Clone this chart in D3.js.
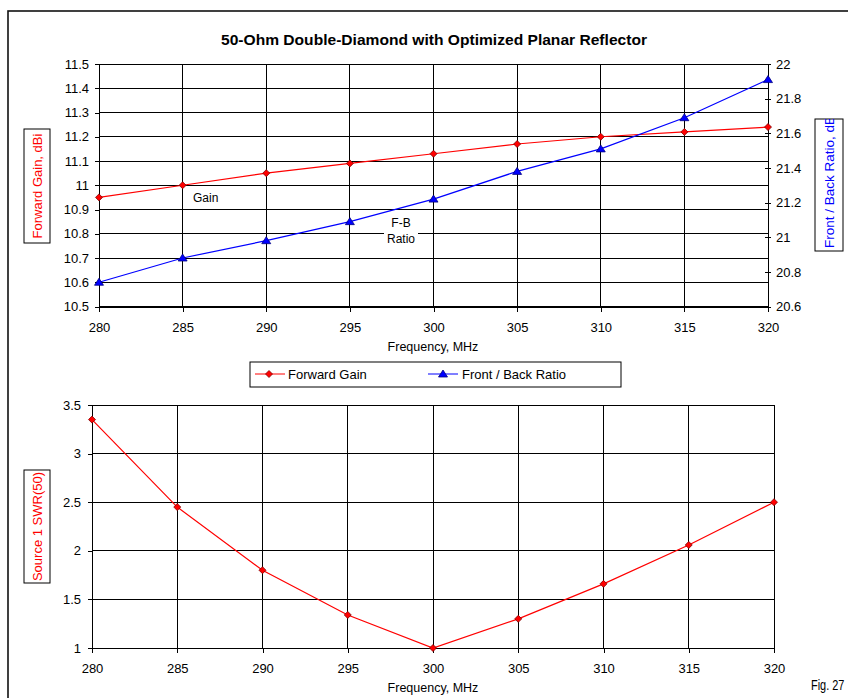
<!DOCTYPE html>
<html>
<head>
<meta charset="utf-8">
<script src="https://cdn.jsdelivr.net/npm/d3@7"></script>
<style>
  html, body { margin: 0; padding: 0; background: #fff; }
  svg { display: block; }
  text { font-family: "Liberation Sans", Arial, sans-serif; fill: #000; }
</style>
</head>
<body>
<svg id="chart" width="848" height="698"></svg>
<script>
// ---------- data ----------
const freqs = [280, 285, 290, 295, 300, 305, 310, 315, 320];
const forwardGain = [10.95, 11.0, 11.05, 11.09, 11.13, 11.17, 11.2, 11.22, 11.24];
const fbRatio = [20.74, 20.88, 20.98, 21.09, 21.22, 21.38, 21.51, 21.69, 21.91];
const swr = [3.35, 2.45, 1.8, 1.34, 1.0, 1.3, 1.66, 2.06, 2.5];

const xTicks = [280, 285, 290, 295, 300, 305, 310, 315, 320];
const gainTicks = [10.5, 10.6, 10.7, 10.8, 10.9, 11.0, 11.1, 11.2, 11.3, 11.4, 11.5];
const fbTicks = [20.6, 20.8, 21.0, 21.2, 21.4, 21.6, 21.8, 22.0];
const swrTicks = [1, 1.5, 2, 2.5, 3, 3.5];

const titleText = "50-Ohm Double-Diamond with Optimized Planar Reflector";
const xTitle = "Frequency, MHz";
const gainTitle = "Forward Gain,  dBi";
const fbTitle = "Front / Back Ratio,  dB";
const swrTitle = "Source 1 SWR(50)";
const legendNames = ["Forward Gain", "Front / Back Ratio"];

// ---------- setup ----------
const svg = d3.select("#chart");
const fmt = d => String(+d.toFixed(2));
const RED = "#ff0000", BLUE = "#0000ff";

// outer frame
svg.append("rect").attr("x", 8).attr("y", 11).attr("width", 1000).attr("height", 1000)
  .attr("fill", "none").attr("stroke", "#111").attr("stroke-width", 1.6);

// title
svg.append("text").attr("x", 434).attr("y", 45).attr("text-anchor", "middle")
  .style("font-family", "'Liberation Sans Narrow', 'Arial Narrow', 'Liberation Sans', sans-serif")
  .style("font-weight", "bold").style("font-size", "15px")
  .attr("textLength", 426).attr("lengthAdjust", "spacingAndGlyphs")
  .text(titleText);

function diamond(g, x, y, r) {
  g.append("path")
    .attr("d", `M${x},${y - r}L${x + r},${y}L${x},${y + r}L${x - r},${y}Z`)
    .attr("fill", RED).attr("stroke", "#800000").attr("stroke-width", 0.8);
}
function triangle(g, x, y) {
  g.append("path")
    .attr("d", `M${x},${y - 4}L${x + 4.5},${y + 3}L${x - 4.5},${y + 3}Z`)
    .attr("fill", BLUE).attr("stroke", "#000080").attr("stroke-width", 0.8);
}

// ---------- top chart ----------
const xT = d3.scaleLinear().domain([280, 320]).range([99, 768]);
const yG = d3.scaleLinear().domain([10.5, 11.5]).range([306.5, 64]);
const yF = d3.scaleLinear().domain([20.6, 22]).range([306.5, 64]);

const topG = svg.append("g");
// gridlines
topG.append("g").selectAll("line").data(gainTicks).join("line")
  .attr("x1", xT(280)).attr("x2", xT(320)).attr("y1", d => yG(d)).attr("y2", d => yG(d))
  .attr("stroke", "#000").attr("stroke-width", 1).attr("shape-rendering", "crispEdges");
topG.append("g").selectAll("line").data(xTicks).join("line")
  .attr("x1", d => xT(d)).attr("x2", d => xT(d)).attr("y1", yG(11.5)).attr("y2", yG(10.5))
  .attr("stroke", "#000").attr("stroke-width", 1).attr("shape-rendering", "crispEdges");

// axes
const axL = d3.axisLeft(yG).tickValues(gainTicks).tickFormat(fmt).tickSize(4).tickPadding(6);
const gL = topG.append("g").attr("transform", `translate(${xT(280)},0)`).call(axL);
const axR = d3.axisRight(yF).tickValues(fbTicks).tickFormat(fmt).tickSize(3).tickPadding(5);
const gR = topG.append("g").attr("transform", `translate(${xT(320)},0)`).call(axR);
gR.selectAll(".tick line").attr("x1", -3);
const axB = d3.axisBottom(xT).tickValues(xTicks).tickFormat(d3.format("d")).tickSize(5).tickPadding(11);
const gB = topG.append("g").attr("transform", `translate(0,${yG(10.5)})`).call(axB);
[gL, gR, gB].forEach(g => {
  g.selectAll(".domain").attr("stroke", "#000").attr("shape-rendering", "crispEdges");
  g.selectAll(".tick line").attr("stroke", "#000").attr("shape-rendering", "crispEdges");
  g.selectAll("text").style("font-size", "13px").style("font-family", "'Liberation Sans', Arial, sans-serif").attr("fill", "#000");
});

// lines
const lineG = d3.line().x((d, i) => xT(freqs[i])).y(d => yG(d));
const lineF = d3.line().x((d, i) => xT(freqs[i])).y(d => yF(d));
topG.append("path").attr("d", lineG(forwardGain)).attr("fill", "none").attr("stroke", RED).attr("stroke-width", 1.2);
topG.append("path").attr("d", lineF(fbRatio)).attr("fill", "none").attr("stroke", BLUE).attr("stroke-width", 1.2);

// in-chart labels
topG.append("text").attr("x", 193).attr("y", 201.5).style("font-size", "12px").text("Gain");
topG.append("rect").attr("x", 384).attr("y", 214).attr("width", 34).attr("height", 31).attr("fill", "#fff");
topG.append("text").attr("x", 401).attr("y", 227).attr("text-anchor", "middle").style("font-size", "12px").text("F-B");
topG.append("text").attr("x", 401).attr("y", 243).attr("text-anchor", "middle").style("font-size", "12px").text("Ratio");

forwardGain.forEach((v, i) => diamond(topG, xT(freqs[i]), yG(v), 3.5));
fbRatio.forEach((v, i) => triangle(topG, xT(freqs[i]), yF(v)));

// axis titles
topG.append("text").attr("x", 433).attr("y", 351).attr("text-anchor", "middle").style("font-size", "12.5px").text(xTitle);

topG.append("rect").attr("x", 24).attr("y", 129).attr("width", 26).attr("height", 114)
  .attr("fill", "#fff").attr("stroke", "#000").attr("stroke-width", 1);
topG.append("text").attr("transform", "translate(37,186) rotate(-90)")
  .attr("text-anchor", "middle").attr("dominant-baseline", "central")
  .style("font-size", "13px").style("fill", RED).text(gainTitle);

svg.append("defs").append("clipPath").attr("id", "fbclip")
  .append("rect").attr("x", 815).attr("y", 119).attr("width", 28).attr("height", 132);
topG.append("rect").attr("x", 815).attr("y", 119).attr("width", 28).attr("height", 132)
  .attr("fill", "#fff").attr("stroke", "#000").attr("stroke-width", 1);
topG.append("g").attr("clip-path", "url(#fbclip)")
  .append("text").attr("transform", "translate(829,248) rotate(-90)")
  .attr("text-anchor", "start").attr("dominant-baseline", "central")
  .style("font-size", "13.5px").style("fill", BLUE).text(fbTitle);

// legend
const leg = svg.append("g");
leg.append("rect").attr("x", 250).attr("y", 362).attr("width", 371).attr("height", 25)
  .attr("fill", "#fff").attr("stroke", "#000").attr("stroke-width", 1);
leg.append("line").attr("x1", 255).attr("x2", 285).attr("y1", 374).attr("y2", 374).attr("stroke", RED);
diamond(leg, 269, 374, 3.5);
leg.append("text").attr("x", 288).attr("y", 378.5).style("font-size", "13px").text(legendNames[0]);
leg.append("line").attr("x1", 428).attr("x2", 458).attr("y1", 374).attr("y2", 374).attr("stroke", BLUE);
triangle(leg, 443, 374);
leg.append("text").attr("x", 462).attr("y", 378.5).style("font-size", "13px").text(legendNames[1]);

// ---------- bottom chart ----------
const xB = d3.scaleLinear().domain([280, 320]).range([92, 774]);
const yS = d3.scaleLinear().domain([1, 3.5]).range([648, 405]);
const botG = svg.append("g");
botG.append("g").selectAll("line").data(swrTicks).join("line")
  .attr("x1", xB(280)).attr("x2", xB(320)).attr("y1", d => yS(d)).attr("y2", d => yS(d))
  .attr("stroke", "#000").attr("stroke-width", 1).attr("shape-rendering", "crispEdges");
botG.append("g").selectAll("line").data(xTicks).join("line")
  .attr("x1", d => xB(d)).attr("x2", d => xB(d)).attr("y1", yS(3.5)).attr("y2", yS(1))
  .attr("stroke", "#000").attr("stroke-width", 1).attr("shape-rendering", "crispEdges");
const axSL = d3.axisLeft(yS).tickValues(swrTicks).tickFormat(fmt).tickSize(4).tickPadding(7);
const gSL = botG.append("g").attr("transform", `translate(${xB(280)},0)`).call(axSL);
const axSB = d3.axisBottom(xB).tickValues(xTicks).tickFormat(d3.format("d")).tickSize(5).tickPadding(11);
const gSB = botG.append("g").attr("transform", `translate(0,${yS(1)})`).call(axSB);
[gSL, gSB].forEach(g => {
  g.selectAll(".domain").attr("stroke", "#000").attr("shape-rendering", "crispEdges");
  g.selectAll(".tick line").attr("stroke", "#000").attr("shape-rendering", "crispEdges");
  g.selectAll("text").style("font-size", "13px").style("font-family", "'Liberation Sans', Arial, sans-serif").attr("fill", "#000");
});
const lineS = d3.line().x((d, i) => xB(freqs[i])).y(d => yS(d));
botG.append("path").attr("d", lineS(swr)).attr("fill", "none").attr("stroke", RED).attr("stroke-width", 1.2);
swr.forEach((v, i) => diamond(botG, xB(freqs[i]), yS(v), 3.5));

botG.append("text").attr("x", 433).attr("y", 692).attr("text-anchor", "middle").style("font-size", "12.5px").text(xTitle);
botG.append("rect").attr("x", 24).attr("y", 470).attr("width", 26).attr("height", 113)
  .attr("fill", "#fff").attr("stroke", "#000").attr("stroke-width", 1);
botG.append("text").attr("transform", "translate(37,526.5) rotate(-90)")
  .attr("text-anchor", "middle").attr("dominant-baseline", "central")
  .style("font-size", "13px").style("fill", RED).text(swrTitle);

svg.append("text").attr("transform", "translate(811,690) scale(0.78,1)")
  .style("font-size", "14px")
  .text("Fig. 27");
</script>
</body>
</html>
